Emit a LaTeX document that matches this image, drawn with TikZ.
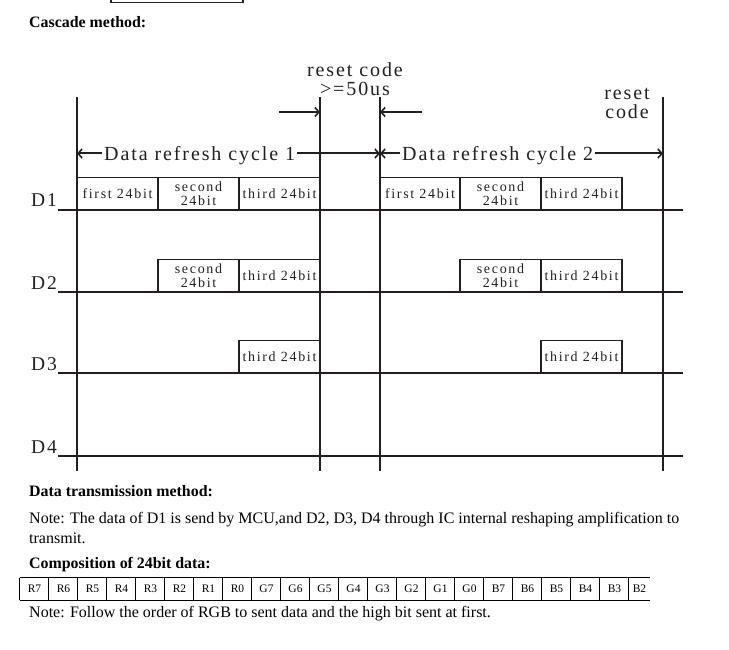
\documentclass[tikz,border=0pt]{standalone}
\usepackage{fontspec}
\setmainfont{Liberation Serif}
\newfontfamily\widefont[LetterSpace=9.5]{Liberation Serif}
\newfontfamily\cellfont[LetterSpace=12]{Liberation Serif}
\usetikzlibrary{arrows.meta}
\definecolor{ink}{HTML}{231F20}
\tikzset{
  rail/.style={draw=ink, line width=1.6pt},
  vline/.style={draw=ink, line width=1.5pt},
  cell/.style={draw=ink, line width=1.3pt, minimum width=81pt, minimum height=32.5pt, inner sep=0pt, align=center, font=\cellfont\fontsize{14}{14}\selectfont, text=ink},
  arr/.style={draw=ink, line width=2.2pt, -{Straight Barb[length=4pt,width=9pt,line width=1.6pt]}},
  cyc/.style={inner sep=0pt, inner xsep=2pt, text height=14.4pt, text depth=0pt, font=\widefont\fontsize{20}{20}\selectfont, text=ink, anchor=base west},
  dlab/.style={inner sep=0pt, font=\widefont\fontsize{19.5}{19.5}\selectfont, text=ink, anchor=base east},
  big/.style={inner sep=0pt, align=center, font=\widefont\fontsize{20}{19}\selectfont, text=ink},
  head/.style={inner sep=0pt, anchor=base west, font=\bfseries\fontsize{15.9}{16}\selectfont},
  body/.style={inner sep=0pt, anchor=base west, font=\fontsize{16}{16}\selectfont},
  bitcell/.style={inner sep=0pt, minimum height=22pt, font=\fontsize{11.5}{11.5}\selectfont},
  tab/.style={draw=black, line width=1.2pt}
}
\begin{document}
\begin{tikzpicture}[x=1pt,y=-1pt]
\useasboundingbox (0,0) rectangle (729,650);
% fragment of previous box at the top
\coordinate (tb1) at (111,0);
\coordinate (tb2) at (243,0);
\draw[ink, line width=1.3pt] (tb1) -- (111,2.3) -- (243,2.3) -- (tb2);

\node[head] (cascade) at (29,28) {Cascade method:};

% vertical lines
\coordinate (v1t) at (77,97);   \coordinate (v1b) at (77,471);
\coordinate (v2t) at (320,97);  \coordinate (v2b) at (320,471);
\coordinate (v3t) at (380,97);  \coordinate (v3b) at (380,471);
\coordinate (v4t) at (663,97);  \coordinate (v4b) at (663,471);
\foreach \v in {1,2,3,4} \draw[vline] (v\v t) -- (v\v b);

% rails
\foreach \n/\y in {1/210,2/292,3/373,4/456}{
  \coordinate (r\n l) at (58,\y);
  \coordinate (r\n r) at (683,\y);
  \draw[rail] (r\n l) -- (r\n r);
  \node[dlab] (D\n) at (57,\y-3) {D\n};
}

% reset code labels and arrows
\node[big] (reset1) at (355,79) {reset code\\>=50us};
\node[big] (reset2) at (627,103) {reset\\code};
\coordinate (ra1) at (279,112);
\coordinate (ra2) at (422,112);
\draw[arr] (ra1) -- (ra1 -| v2t);
\draw[arr] (ra2) -- (ra2 -| v3t);

% refresh cycle labels and arrows
\node[cyc] (cyc1) at (102,160.7) {Data refresh cycle 1};
\node[cyc] (cyc2) at (400,160.7) {Data refresh cycle 2};
\begin{scope}[arr/.append style={line width=2pt}]
\draw[arr] (cyc1.west) -- (cyc1.west -| v1t);
\draw[arr] (cyc1.east) -- (cyc1.east -| v3t);
\draw[arr] (cyc2.west) -- (cyc2.west -| v3t);
\draw[arr] (cyc2.east) -- (cyc2.east -| v4t);
\end{scope}

% D1 cells
\node[cell] (a11) at (117.5,193.75) {first 24bit};
\node[cell] (a12) at (198.5,193.75) {second\\24bit};
\node[cell] (a13) at (279.5,193.75) {third 24bit};
\node[cell] (b11) at (420,193.75) {first 24bit};
\node[cell] (b12) at (500.5,193.75) {second\\24bit};
\node[cell] (b13) at (581.5,193.75) {third 24bit};
% D2 cells
\node[cell] (a22) at (198.5,275.75) {second\\24bit};
\node[cell] (a23) at (279.5,275.75) {third 24bit};
\node[cell] (b22) at (500.5,275.75) {second\\24bit};
\node[cell] (b23) at (581.5,275.75) {third 24bit};
% D3 cells
\node[cell] (a33) at (279.5,356.75) {third 24bit};
\node[cell] (b33) at (581.5,356.75) {third 24bit};

% bottom text
\node[head] (dtm) at (29,496) {Data transmission method:};
\node[body] (note1) at (29,523) {Note: The data of D1 is send by MCU,and D2, D3, D4 through IC internal reshaping amplification to};
\node[body] (note1b) at (29,543) {transmit.};
\node[head] (comp) at (29,568) {Composition of 24bit data:};

% bit table
\foreach \t [count=\i] in {R7,R6,R5,R4,R3,R2,R1,R0,G7,G6,G5,G4,G3,G2,G1,G0,B7,B6,B5,B4,B3}{
  \node[bitcell, minimum width=29pt] (bit\i) at ({20+29*(\i-1)+14.5},589) {\t};
}
\node[bitcell, minimum width=21pt] (bit22) at (639.5,589) {B2};
\draw[tab] (bit1.north west) -- (bit22.north east);
\draw[tab] (bit1.south west) -- (bit22.south east);
\foreach \i in {1,...,22} \draw[tab] (bit\i.north west) -- (bit\i.south west);

\node[body] (note2) at (29,617) {Note: Follow the order of RGB to sent data and the high bit sent at first.};
\end{tikzpicture}
\end{document}
